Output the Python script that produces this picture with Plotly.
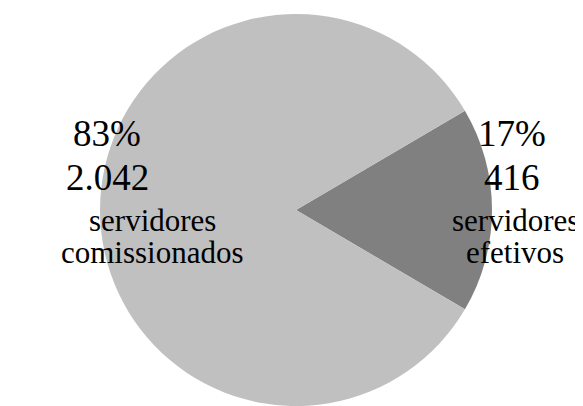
import plotly.graph_objects as go

labels = ["servidores efetivos", "servidores comissionados"]
values = [416, 2042]
colors = ["#808080", "#c0c0c0"]
label_line1 = ["servidores", "servidores"]
label_line2 = ["efetivos", "comissionados"]

# page body has an 8px default margin; figure drawn inside it
OFF = 8
W, H = 583 - OFF, 406 - OFF
total = sum(values)
pcts = [round(v / total * 100) for v in values]
first_share = values[0] / total * 360

cx, cy, r = 296 - OFF, 211 - OFF, 197
fig = go.Figure(go.Pie(
    labels=labels, values=values, sort=False, direction="clockwise",
    rotation=90 - first_share / 2,
    marker=dict(colors=colors, line=dict(width=0)),
    textinfo="none", hoverinfo="label+value+percent", showlegend=False,
    domain=dict(x=[(cx - r) / W, (cx + r) / W],
                y=[max(0, (H - cy - r) / H), min(1, (H - cy + r) / H)]),
))

font_big = dict(family="Liberation Serif", size=37, color="#000000")
font_small = dict(family="Liberation Serif", size=31, color="#000000")

def fmt(v):
    return f"{v:,}".replace(",", ".")

pos = {
    0: dict(big_x=512, small_x=515),
    1: dict(big_x=107, small_x=152),
}
rows_y = [134, 178, 220, 253]
ann = []
for i in range(len(values)):
    texts = [f"{pcts[i]}%", fmt(values[i]), label_line1[i], label_line2[i]]
    for j, t in enumerate(texts):
        x = (pos[i]["big_x"] if j < 2 else pos[i]["small_x"]) - OFF
        y = rows_y[j] - OFF
        ann.append(dict(
            x=x / W, y=1 - y / H, xref="paper", yref="paper",
            text=t, showarrow=False, xanchor="center", yanchor="middle",
            font=font_big if j < 2 else font_small,
        ))

fig.update_layout(
    width=W, height=H, margin=dict(l=0, r=0, t=0, b=0),
    paper_bgcolor="white", plot_bgcolor="white",
    annotations=ann,
)
fig.write_html("out.html")
